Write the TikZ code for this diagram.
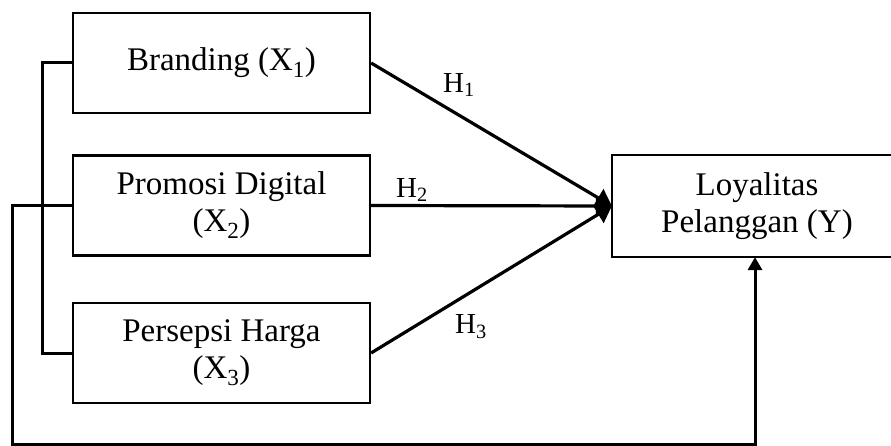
\documentclass[tikz,border=0pt]{standalone}
\usepackage{fontspec}
\setmainfont{Liberation Serif}
\usetikzlibrary{arrows.meta}
\tikzset{
  boxline/.style={line width=2.2pt},
  varbox/.style={draw, boxline, rectangle, align=center, inner sep=0pt,
    font=\fontsize{33}{37}\selectfont},
  link/.style={line width=3pt},
  hlabel/.style={font=\fontsize{29}{33}\selectfont, inner sep=0pt},
  bigtip/.style={-{Triangle[length=16pt,width=20pt]}},
  smalltip/.style={-{Triangle[length=13pt,width=14pt]}}
}
\begin{document}
\begin{tikzpicture}[x=1pt,y=-1pt]
\useasboundingbox (0,0) rectangle (891,446);
\clip (0,0) rectangle (891,446);
\node[varbox, minimum width=297pt, minimum height=100pt] (b) at (221.5,63) {Branding (X\textsubscript{1})};
\node[varbox, minimum width=297pt, minimum height=100pt] (p) at (221.5,205.5) {Promosi Digital\\(X\textsubscript{2})};
\node[varbox, minimum width=297pt, minimum height=100pt] (h) at (221.5,353) {Persepsi Harga\\(X\textsubscript{3})};
\node[varbox, draw=none, minimum width=288pt, minimum height=100pt] (y) at (757,206) {Loyalitas\\Pelanggan (Y)};
% Loyalitas box, its right side runs past the picture edge
\draw[boxline] ([xshift=40pt]y.north east) -- (y.north west) -- (y.south west) -- ([xshift=40pt]y.south east);
\coordinate (bl) at (42,63);
\coordinate (hl) at (42,353);
\coordinate (pl) at (12,205.5);
\coordinate (bot) at (12,444.5);
\coordinate (botr) at (755,444.5);
% bracket
\draw[link] (b.west) -- (bl) -- (hl) -- (h.west);
% outer path
\draw[link, smalltip] (p.west) -- (pl) -- (bot) -- (botr) -- (botr |- y.south);
% hypothesis arrows
\draw[line width=3.2pt, bigtip] (b.east) -- (y.west);
\draw[line width=3.2pt, bigtip] (p.east) -- (y.west);
\draw[line width=3.2pt, bigtip] (h.east) -- (y.west);
\node[hlabel] (h1) at (459,85) {H\textsubscript{1}};
\node[hlabel] (h2) at (412,190) {H\textsubscript{2}};
\node[hlabel] (h3) at (471,327) {H\textsubscript{3}};
\end{tikzpicture}
\end{document}
